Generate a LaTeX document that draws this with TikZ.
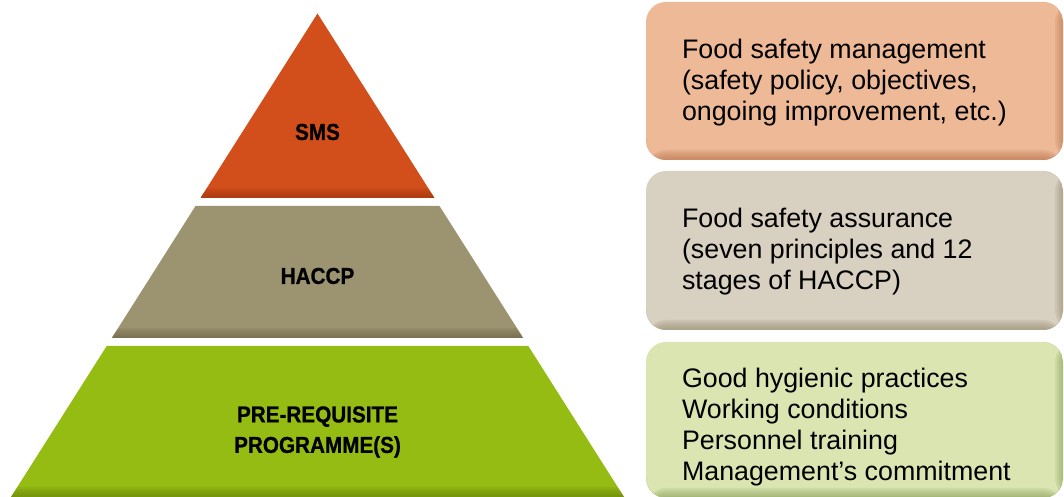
\documentclass[tikz,border=0pt]{standalone}
\usepackage{fontspec}
\setmainfont{Liberation Sans}
\newfontfamily\layerfont[FakeStretch=0.9,BoldFeatures={FakeBold=0.8}]{Liberation Sans}
\usetikzlibrary{positioning}
\definecolor{smscolor}{RGB}{210,78,26}
\definecolor{smsdark}{RGB}{150,50,14}
\definecolor{haccpcolor}{RGB}{156,147,112}
\definecolor{haccpdark}{RGB}{100,92,64}
\definecolor{prpcolor}{RGB}{148,188,18}
\definecolor{prpdark}{RGB}{96,124,10}
\definecolor{mgmtcolor}{RGB}{237,185,150}
\definecolor{mgmtdark}{RGB}{180,108,70}
\definecolor{assurcolor}{RGB}{216,208,192}
\definecolor{assurdark}{RGB}{140,132,100}
\definecolor{practcolor}{RGB}{218,229,177}
\definecolor{practdark}{RGB}{130,152,80}
\begin{document}
\begin{tikzpicture}
[x=1pt,y=1pt,
  layerdecorate/.style n args={2}{fill=#1,
    path picture={\foreach \i in {1,...,5}
      \fill[#2,opacity=0.15] ([yshift=2*\i pt]path picture bounding box.south west) rectangle (path picture bounding box.south east);}},
  boxdecorate/.style n args={2}{fill=#1,rounded corners=20pt,minimum width=417pt,
    path picture={\foreach \i in {1,...,4}
      \fill[#2,opacity=0.15] ([xshift=-2*\i pt]path picture bounding box.north east) rectangle (path picture bounding box.south east);
      \foreach \i in {1,...,5}
      \fill[#2,opacity=0.15] ([yshift=2*\i pt]path picture bounding box.south west) rectangle (path picture bounding box.south east);}},
  labeldecorate/.style={align=center,font=\fontsize{23}{30.5}\layerfont\bfseries},
  textdecorate/.style={align=left,font=\fontsize{26.8}{31}\selectfont}]
\useasboundingbox (0,0) rectangle (1064,497);
% layers of the pyramid
\path[layerdecorate={smscolor}{smsdark}] (200.5,299) -- (317.5,483.5) -- (434.5,299) -- cycle;
\path[layerdecorate={haccpcolor}{haccpdark}] (111.8,159) -- (195.5,291) -- (439.5,291) -- (523.2,159) -- cycle;
\path[layerdecorate={prpcolor}{prpdark}] (11,0) -- (106.7,151) -- (528.3,151) -- (624,0) -- cycle;
% labels of the layers
\node (sms) at (317.5,365) [labeldecorate] {SMS};
\node (haccp) at (317.5,221) [labeldecorate] {HACCP};
\node (prp) at (317.5,65) [labeldecorate] {PRE-REQUISITE\\PROGRAMME(S)};
% boxes
\node (mgmt) at (854.5,416) [boxdecorate={mgmtcolor}{mgmtdark},minimum height=158pt] {};
\node (assur) at (854.5,246.5) [boxdecorate={assurcolor}{assurdark},minimum height=159pt] {};
\node (pract) at (854.5,77) [boxdecorate={practcolor}{practdark},minimum height=156pt] {};
% texts of the boxes
\node (mgmttext) [textdecorate,right=32.7pt of mgmt.west,yshift=-2pt]
  {Food safety management\\(safety policy, objectives,\\ongoing improvement, etc.)};
\node (assurtext) [textdecorate,right=32.7pt of assur.west,yshift=-1.5pt]
  {Food safety assurance\\(seven principles and 12\\stages of HACCP)};
\node (practtext) [textdecorate,right=32.7pt of pract.west,yshift=-7pt]
  {Good hygienic practices\\Working conditions\\Personnel training\\Management’s commitment};
\end{tikzpicture}
\end{document}
